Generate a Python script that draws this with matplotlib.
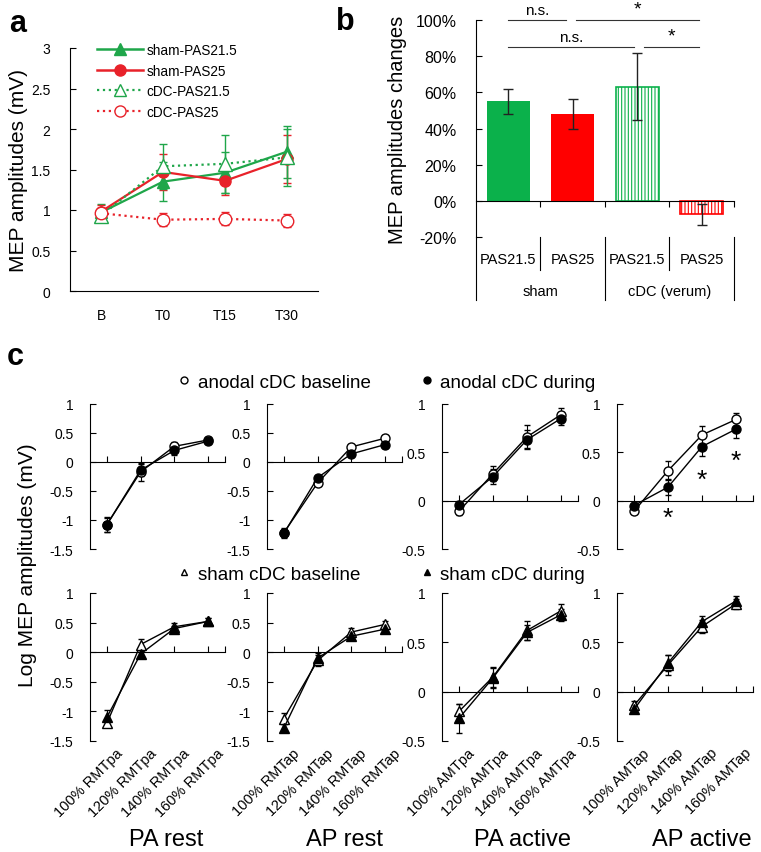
import numpy as np
import matplotlib.pyplot as plt
import matplotlib.transforms as mtransforms
from matplotlib.lines import Line2D

plt.rcParams['font.family'] = ['Liberation Sans', 'DejaVu Sans']
plt.rcParams['axes.unicode_minus'] = False
plt.rcParams['axes.linewidth'] = 0.8
plt.rcParams['hatch.linewidth'] = 0.8

# ---- panel a data ----
a_times = ['B', 'T0', 'T15', 'T30']
sham21 = [0.97, 1.35, 1.46, 1.72]
sham21_err = [0.10, 0.24, 0.25, 0.32]
sham25 = [0.98, 1.47, 1.36, 1.63]
sham25_err = [0.08, 0.22, 0.17, 0.30]
cdc21 = [0.93, 1.54, 1.57, 1.65]
cdc21_err = [0.06, 0.28, 0.36, 0.35]
cdc25 = [0.96, 0.88, 0.89, 0.87]
cdc25_err = [0.05, 0.08, 0.08, 0.08]

# ---- panel b data ----
b_labels = ['PAS21.5', 'PAS25', 'PAS21.5', 'PAS25']
b_groups = ['sham', 'cDC (verum)']
b_vals = [55, 48, 63, -7.5]
b_err = [7, 8.5, 18.5, 6]

# ---- panel c data ----
c_titles = ['PA rest', 'AP rest', 'PA active', 'AP active']
c_ticklabels = [['100% RMTpa', '120% RMTpa', '140% RMTpa', '160% RMTpa'],
                ['100% RMTap', '120% RMTap', '140% RMTap', '160% RMTap'],
                ['100% AMTpa', '120% AMTpa', '140% AMTpa', '160% AMTpa'],
                ['100% AMTap', '120% AMTap', '140% AMTap', '160% AMTap']]
c_ylow = [-1.5, -1.5, -0.5, -0.5]

anodal_base = [[-1.08, -0.17, 0.27, 0.38], [-1.22, -0.36, 0.26, 0.41],
               [-0.11, 0.28, 0.66, 0.89], [-0.11, 0.31, 0.68, 0.84]]
anodal_base_err = [[0.13, 0.15, 0.08, 0.05], [0.08, 0.05, 0.05, 0.06],
                   [0.04, 0.08, 0.12, 0.07], [0.03, 0.10, 0.09, 0.07]]
anodal_dur = [[-1.08, -0.14, 0.20, 0.36], [-1.23, -0.27, 0.14, 0.30],
              [-0.04, 0.25, 0.63, 0.85], [-0.05, 0.14, 0.56, 0.74]]
anodal_dur_err = [[0.12, 0.10, 0.08, 0.05], [0.08, 0.05, 0.05, 0.05],
                  [0.04, 0.08, 0.10, 0.07], [0.03, 0.08, 0.10, 0.09]]

sham_base = [[-1.20, 0.13, 0.43, 0.52], [-1.12, -0.14, 0.34, 0.47],
             [-0.20, 0.15, 0.62, 0.82], [-0.14, 0.27, 0.66, 0.89]]
sham_base_err = [[0.05, 0.10, 0.06, 0.05], [0.10, 0.10, 0.07, 0.06],
                 [0.08, 0.10, 0.10, 0.07], [0.05, 0.10, 0.07, 0.05]]
sham_dur = [[-1.10, -0.03, 0.40, 0.52], [-1.28, -0.10, 0.27, 0.39],
            [-0.27, 0.14, 0.60, 0.78], [-0.18, 0.29, 0.71, 0.92]]
sham_dur_err = [[0.13, 0.04, 0.05, 0.06], [0.07, 0.08, 0.07, 0.05],
                [0.15, 0.10, 0.08, 0.06], [0.04, 0.08, 0.06, 0.05]]

star_x = [1, 2, 3]
star_y = [-0.18, 0.22, 0.41]

W, H = 761, 853


def box(x0, y0, x1, y1):
    return [x0 / W, 1 - y1 / H, (x1 - x0) / W, (y1 - y0) / H]


fig = plt.figure(figsize=(W / 100, H / 100), dpi=100)

line_green = '#1FA64A'
line_red = '#E8222A'
bar_green = '#0BB14B'
bar_red = '#FF0000'

# ================= panel a =================
ax = fig.add_axes(box(70, 49, 318, 292))
xa = np.arange(4)
ax.errorbar(xa, sham21, yerr=sham21_err, color=line_green, lw=1.6, marker='^', ms=9,
            capsize=3, elinewidth=1)
ax.errorbar(xa, sham25, yerr=sham25_err, color=line_red, lw=1.6, marker='o', ms=8,
            capsize=3, elinewidth=1)
ax.errorbar(xa, cdc21, yerr=cdc21_err, color=line_green, lw=1.6, ls=':', marker='^', ms=10,
            mfc='white', capsize=3, elinewidth=1)
ax.errorbar(xa, cdc25, yerr=cdc25_err, color=line_red, lw=1.6, ls=':', marker='o', ms=9,
            mfc='white', capsize=3, elinewidth=1)
ax.set_xlim(-0.5, 3.5)
ax.set_ylim(0, 3)
ax.set_yticks(np.arange(0, 3.01, 0.5))
ax.set_yticklabels(['%g' % v for v in np.arange(0, 3.01, 0.5)], fontsize=10)
ax.set_xticks(xa)
ax.set_xticklabels(a_times, fontsize=10)
ax.tick_params(axis='x', length=0, pad=12)
ax.tick_params(axis='y', direction='in', length=4, pad=14)
ax.spines[['top', 'right']].set_visible(False)
ax.set_ylabel('MEP amplitudes (mV)', fontsize=15, labelpad=2)
handles = [Line2D([], [], color=line_green, lw=1.8, marker='^', ms=9),
           Line2D([], [], color=line_red, lw=1.8, marker='o', ms=8),
           Line2D([], [], color=line_green, lw=1.6, ls=':', marker='^', ms=9, mfc='white'),
           Line2D([], [], color=line_red, lw=1.6, ls=':', marker='o', ms=8, mfc='white')]
fig.legend(handles, ['sham-PAS21.5', 'sham-PAS25', 'cDC-PAS21.5', 'cDC-PAS25'],
           loc='upper left', bbox_to_anchor=(97 / W, 1 - 44 / H), frameon=False,
           fontsize=9.8, handlelength=3.4, handletextpad=0.25, labelspacing=0.48,
           borderpad=0, borderaxespad=0)
fig.text(18 / W, 1 - 24 / H, 'a', fontsize=22, fontweight='bold', ha='center', va='center')

# ================= panel b =================
ax = fig.add_axes(box(476, 21, 734, 238))
xb = np.arange(4)
ax.bar(xb[:2], b_vals[:2], width=0.67, color=[bar_green, bar_red], yerr=b_err[:2],
       capsize=3.5, error_kw=dict(elinewidth=1, ecolor='#222222', capthick=1))
ax.bar(xb[2:], b_vals[2:], width=0.67, color='white', edgecolor=[bar_green, bar_red],
       hatch='|||||', lw=1.2, yerr=b_err[2:],
       capsize=3.5, error_kw=dict(elinewidth=1, ecolor='#222222', capthick=1))
ax.set_xlim(-0.5, 3.5)
ax.set_ylim(-20, 100)
ax.set_yticks(np.arange(-20, 101, 20))
ax.set_yticklabels(['%d%%' % v for v in np.arange(-20, 101, 20)], fontsize=11.5)
ax.tick_params(axis='y', direction='in', length=4, pad=14)
ax.spines[['top', 'right']].set_visible(False)
ax.spines['bottom'].set_position(('data', 0))
ax.set_xticks([0.5, 1.5, 2.5, 3.5])
ax.set_xticklabels([])
ax.tick_params(axis='x', direction='out', length=4)
ax.set_ylabel('MEP amplitudes changes', fontsize=14.5, labelpad=6)
# category axis below
ax.plot([-0.5, -0.5], [-20, -55], color='k', lw=0.8, clip_on=False)
for xs, ylo in zip([0.5, 1.5, 2.5, 3.5], [-38, -55, -38, -55]):
    ax.plot([xs, xs], [-20, ylo], color='k', lw=0.8, clip_on=False)
for i, lab in enumerate(b_labels):
    ax.text(i, -32, lab, ha='center', va='center', fontsize=10.5, clip_on=False)
for i, g in enumerate(b_groups):
    ax.text(0.5 + 2 * i, -50, g, ha='center', va='center', fontsize=10.5, clip_on=False)
# significance
sig = [((0, 0.9), 100, 'n.s.', 11), ((1.05, 2.95), 100, '*', 14),
       ((0, 1.95), 85, 'n.s.', 11), ((2.1, 2.95), 85, '*', 14)]
for (x0, x1), yy, s, fs in sig:
    ax.plot([x0, x1], [yy, yy], color='#333333', lw=0.8, clip_on=False)
    ax.text((x0 + x1) / 2, yy + 1.5, s, ha='center', va='bottom', fontsize=fs, clip_on=False)
fig.text(345 / W, 1 - 22 / H, 'b', fontsize=22, fontweight='bold', ha='center', va='center')

# ================= panel c =================
col_x = [(90, 225), (267, 402), (442, 578), (617, 753)]
row_y = [(405, 550), (594, 742)]
fig.text(15 / W, 1 - 357 / H, 'c', fontsize=22, fontweight='bold', ha='center', va='center')


def draw_c(ax, base, base_err, dur, dur_err, mk, ylo):
    x = np.arange(4)
    ax.errorbar(x, base, yerr=base_err, color='k', lw=1, marker=mk, ms=6.5, mfc='white',
                mec='k', capsize=2.5, elinewidth=0.8)
    ax.errorbar(x, dur, yerr=dur_err, color='k', lw=1, marker=mk, ms=6.5, mfc='k',
                mec='k', capsize=2.5, elinewidth=0.8)
    ax.set_xlim(-0.5, 3.5)
    ax.set_ylim(ylo, 1)
    ticks = np.arange(ylo, 1.01, 0.5)
    ax.set_yticks(ticks)
    ax.set_yticklabels(['%g' % t for t in ticks], fontsize=10)
    ax.tick_params(axis='y', direction='in', length=4, pad=12)
    ax.spines[['top', 'right']].set_visible(False)
    ax.spines['bottom'].set_position(('data', 0))
    ax.set_xticks([0, 1, 2, 3, 3.5])
    ax.set_xticklabels([])
    ax.tick_params(axis='x', direction='in', length=4)


for r in range(2):
    for c in range(4):
        x0, x1 = col_x[c]
        y0, y1 = row_y[r]
        ax = fig.add_axes(box(x0, y0, x1, y1))
        if r == 0:
            draw_c(ax, anodal_base[c], anodal_base_err[c], anodal_dur[c], anodal_dur_err[c],
                   'o', c_ylow[c])
            if c == 3:
                for sx, sy in zip(star_x, star_y):
                    ax.text(sx, sy, '*', ha='center', va='center', fontsize=19)
        else:
            draw_c(ax, sham_base[c], sham_base_err[c], sham_dur[c], sham_dur_err[c],
                   '^', c_ylow[c])
            trans = mtransforms.blended_transform_factory(ax.transData, ax.transAxes)
            for i, lab in enumerate(c_ticklabels[c]):
                ax.text(i + 0.25, -0.03, lab, transform=trans, rotation=45, ha='right',
                        va='top', rotation_mode='anchor', fontsize=10.5)

title_x = [166, 345, 523, 702]
for t, tx in zip(c_titles, title_x):
    fig.text(tx / W, 1 - 840 / H, t, ha='center', va='center', fontsize=17)

fig.text(28 / W, 1 - 565 / H, 'Log MEP amplitudes (mV)', rotation=90, ha='center',
         va='center', fontsize=15)

leg_items = [('o', 'white', 'anodal cDC baseline', 175, 383),
             ('o', 'k', 'anodal cDC during', 418, 383),
             ('^', 'white', 'sham cDC baseline', 175, 575),
             ('^', 'k', 'sham cDC during', 418, 575)]
for mk, fc, lab, lx, ly in leg_items:
    h = Line2D([], [], ls='none', marker=mk, ms=5, mfc=fc, mec='k')
    fig.legend([h], [lab], loc='center left', bbox_to_anchor=(lx / W, 1 - ly / H),
               frameon=False, fontsize=13.5, handlelength=1, handletextpad=0.2,
               borderpad=0, borderaxespad=0)

fig.savefig('out.png', dpi=100)
